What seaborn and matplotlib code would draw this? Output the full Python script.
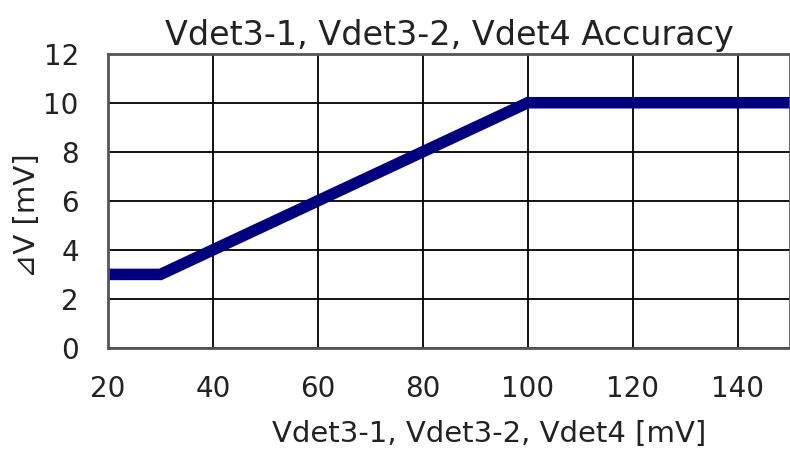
import matplotlib
matplotlib.use("Agg")
import matplotlib.pyplot as plt
import seaborn as sns
import pandas as pd

x_mv = [20, 30, 100, 150]
dv_mv = [3, 3, 10, 10]
x_ticks = [20, 40, 60, 80, 100, 120, 140]
y_ticks = [0, 2, 4, 6, 8, 10, 12]

sns.set_theme(style="white")
plt.rcParams['font.family'] = ['DejaVu Sans']

df = pd.DataFrame({"x": x_mv, "y": dv_mv})

fig = plt.figure(figsize=(7.9, 4.5), dpi=100)
ax = fig.add_axes([0.1367, 0.2267, 0.8633, 0.654])
sns.lineplot(data=df, x="x", y="y", ax=ax, color="#00007f", linewidth=8.3,
             solid_capstyle="butt", solid_joinstyle="miter")
ax.set_xlim(20, 150)
ax.set_ylim(0, 12)
ax.set_xticks(x_ticks)
ax.set_yticks(y_ticks)
ax.grid(True, color="black", linewidth=1.3)
ax.set_axisbelow(True)
for s in ax.spines.values():
    s.set_color("#555555")
    s.set_linewidth(2)
ax.tick_params(axis="x", labelsize=20, colors="#222222", length=0, pad=19.5)
ax.tick_params(axis="y", labelsize=20, colors="#222222", length=0, pad=21)
ax.set_xlabel("Vdet3-1, Vdet3-2, Vdet4 [mV]", fontsize=21, color="#222222", labelpad=12)
ax.set_ylabel("⊿V [mV]", fontsize=21, color="#222222", labelpad=2)
ax.xaxis.label.set_x(0.559)
ax.yaxis.label.set_y(0.45)
ax.set_title("Vdet3-1, Vdet3-2, Vdet4 Accuracy", fontsize=24, color="#222222", pad=6)
fig.savefig("out.png", dpi=100)
